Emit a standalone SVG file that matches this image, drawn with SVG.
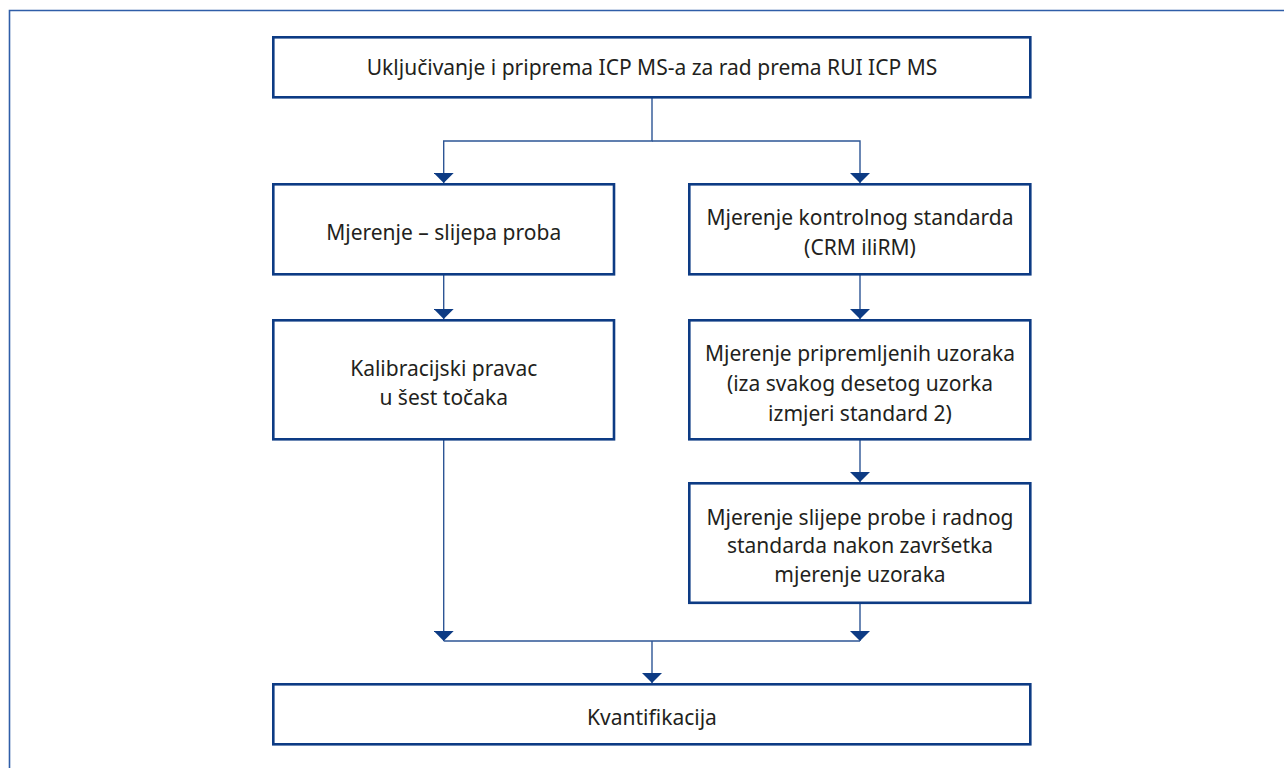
<svg xmlns="http://www.w3.org/2000/svg" width="1284" height="768" viewBox="0 0 1284 768">
<defs>
<style>
.box{fill:#fff;stroke:#0d3b84;stroke-width:2.6}
.t{font-family:"Source Sans Pro","Noto Sans","Open Sans",sans-serif;font-size:21px;fill:#231f20;text-anchor:middle}
.c{fill:none;stroke:#2d5595;stroke-width:1.4}
</style>
<marker id="ah" viewBox="0 0 10 20" refX="10" refY="10" markerWidth="10" markerHeight="20" markerUnits="userSpaceOnUse" orient="auto">
<path d="M0,0 L10,10 L0,20 Z" fill="#0d3b84"/>
</marker>
</defs>
<rect x="0" y="0" width="1284" height="768" fill="#fff"/>
<path d="M9.5,768 V10.5 H1284" fill="none" stroke="#2f5ea8" stroke-width="1.6"/>
<g id="connectors">
<path class="c" d="M652,97 V141 H443.7 V183" marker-end="url(#ah)"/>
<path class="c" d="M652,141 H860 V183" marker-end="url(#ah)"/>
<path class="c" d="M443.7,274 V319" marker-end="url(#ah)"/>
<path class="c" d="M860,274 V319" marker-end="url(#ah)"/>
<path class="c" d="M860,440 V482" marker-end="url(#ah)"/>
<path class="c" d="M443.7,440 V641" marker-end="url(#ah)"/>
<path class="c" d="M860,603 V641" marker-end="url(#ah)"/>
<path class="c" d="M443.7,641 H860"/>
<path class="c" d="M652,641 V683" marker-end="url(#ah)"/>
</g>
<g id="n1"><rect class="box" x="273.3" y="37.3" width="757" height="60"/><text class="t" x="652" y="74.5">Uključivanje i priprema ICP MS-a za rad prema RUI ICP MS</text></g>
<g id="n2"><rect class="box" x="273.3" y="184.3" width="340.7" height="90"/><text class="t" x="443.7" y="239.5">Mjerenje – slijepa proba</text></g>
<g id="n3"><rect class="box" x="689.3" y="184.3" width="341" height="90"/><text class="t" x="860" y="224.5">Mjerenje kontrolnog standarda</text><text class="t" x="860" y="254.5">(CRM iliRM)</text></g>
<g id="n4"><rect class="box" x="273.3" y="320.3" width="340.7" height="119"/><text class="t" x="443.7" y="375.5">Kalibracijski pravac</text><text class="t" x="443.7" y="404.5">u šest točaka</text></g>
<g id="n5"><rect class="box" x="689.3" y="320.3" width="341" height="119"/><text class="t" x="860" y="360.5">Mjerenje pripremljenih uzoraka</text><text class="t" x="860" y="390.5">(iza svakog desetog uzorka</text><text class="t" x="860" y="420.5">izmjeri standard 2)</text></g>
<g id="n6"><rect class="box" x="689.3" y="483.3" width="341" height="119.5"/><text class="t" x="860" y="524.5">Mjerenje slijepe probe i radnog</text><text class="t" x="860" y="552.5">standarda nakon završetka</text><text class="t" x="860" y="581.5">mjerenje uzoraka</text></g>
<g id="n7"><rect class="box" x="273.3" y="684.3" width="757" height="60"/><text class="t" x="652" y="724.5">Kvantifikacija</text></g>
</svg>
